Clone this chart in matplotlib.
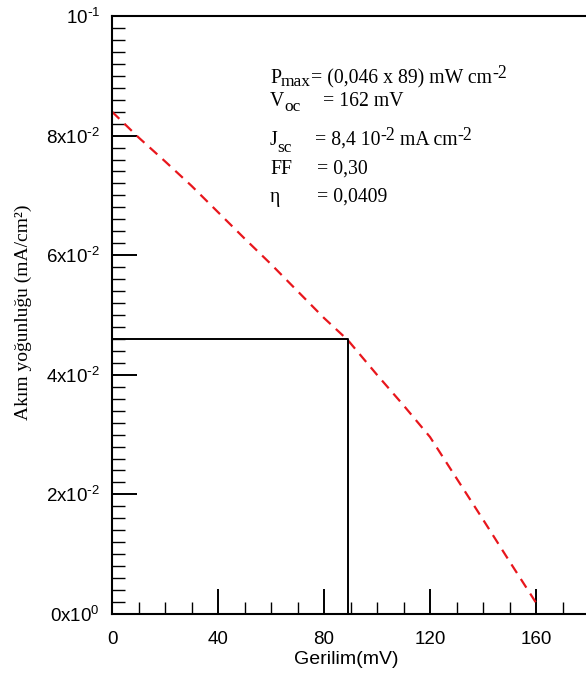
import matplotlib
matplotlib.use("Agg")
import matplotlib.pyplot as plt
from matplotlib.ticker import MultipleLocator, FixedLocator

plt.rcParams["font.family"] = ["Liberation Sans", "DejaVu Sans"]
plt.rcParams["mathtext.default"] = "regular"

# J-V curve
voltage = [0, 10, 20, 30, 40, 50, 60, 70, 80, 89, 100, 110, 120, 130, 140, 150, 161]
current = [0.0840, 0.0797, 0.0757, 0.0716, 0.0672, 0.0628, 0.0585, 0.0540, 0.0495,
           0.0458, 0.0400, 0.0349, 0.0296, 0.0227, 0.0158, 0.0088, 0.0012]

# maximum power point
v_max = 89
j_max = 0.046

x_ticks = [0, 40, 80, 120, 160]
y_ticks = [0, 0.02, 0.04, 0.06, 0.08, 0.1]
y_tick_labels = ["0x10$^{0}$", r"2x10$^{\text{-}2}$", r"4x10$^{\text{-}2}$",
                 r"6x10$^{\text{-}2}$", r"8x10$^{\text{-}2}$", r"10$^{\text{-}1}$"]

# parameter block: (text, kind) pieces, kind n = normal, sub, sup
info_names = [
    [("P", "n"), ("max", "sub"), ("= (0,046 x 89) mW cm", "n"), ("-2", "sup")],
    [("V", "n"), ("oc", "sub")],
    [("J", "n"), ("sc", "sub")],
    [("FF", "n")],
    [("η", "n")],
]
info_values = [
    [],
    [("= 162 mV", "n")],
    [("= 8,4 10", "n"), ("-2", "sup"), (" mA cm", "n"), ("-2", "sup")],
    [("= 0,30", "n")],
    [("= 0,0409", "n")],
]

W, H = 586, 675
fig = plt.figure(figsize=(W / 100, H / 100), dpi=100)
ax = fig.add_axes([112 / W, 1 - 614 / H, 1 - 112 / W, (614 - 16) / H])

ax.plot(voltage, current, color="#e8161c", lw=1.6, ls=(0, (4.6, 3.2)))
ax.plot([0, v_max, v_max], [j_max, j_max, 0], color="black", lw=1.4)

ax.set_xlim(0, (W - 112) / 2.65)
ax.set_ylim(0, 0.1)

ax.xaxis.set_major_locator(FixedLocator(x_ticks))
ax.xaxis.set_minor_locator(MultipleLocator(10))
ax.yaxis.set_major_locator(FixedLocator(y_ticks))
ax.yaxis.set_minor_locator(MultipleLocator(0.002))
ax.set_yticklabels(y_tick_labels)

ax.tick_params(which="major", direction="in", length=18, width=1.4,
               top=False, right=False)
ax.tick_params(which="minor", direction="in", length=9, width=1.0,
               top=False, right=False)
ax.tick_params(axis="x", which="major", pad=12, labelsize=13.5)
ax.tick_params(axis="y", which="major", pad=8.6, labelsize=13.5)

for side in ["left", "bottom", "top"]:
    ax.spines[side].set_linewidth(1.5)
ax.spines["right"].set_visible(False)

fig.text(346 / W, 1 - 659 / H, "Gerilim(mV)", ha="center", va="center", fontsize=14)
fig.text(23 / W, 1 - 312 / H, "Akım yoğunluğu (mA/cm²)", rotation=90, ha="center",
         va="center", fontsize=14, family=["Liberation Serif", "DejaVu Serif"])

serif = ["Liberation Serif", "DejaVu Serif"]
fs = 14.2
renderer = fig.canvas.get_renderer()


def draw_pieces(x0, base, pieces, sub_drop):
    # put text pieces one after the other, in pixels from the top left
    x = x0
    for txt, kind in pieces:
        size, dy = fs, 0
        if kind == "sub":
            size, dy = fs * 0.88, sub_drop
        elif kind == "sup":
            size, dy = fs * 0.9, -5.5
        t = fig.text(x / W, 1 - (base + dy) / H, txt, ha="left", va="baseline",
                     fontsize=size, family=serif)
        x += t.get_window_extent(renderer).width


baselines = [83, 106, 145, 174, 202]
value_x = [0, 323, 315, 317, 317]
sub_drops = [3, 5, 7, 0, 0]
for name, value, base, vx, drop in zip(info_names, info_values, baselines, value_x, sub_drops):
    draw_pieces(270, base, name, drop)
    if value:
        draw_pieces(vx, base, value, drop)

fig.savefig("out.png", dpi=100)
